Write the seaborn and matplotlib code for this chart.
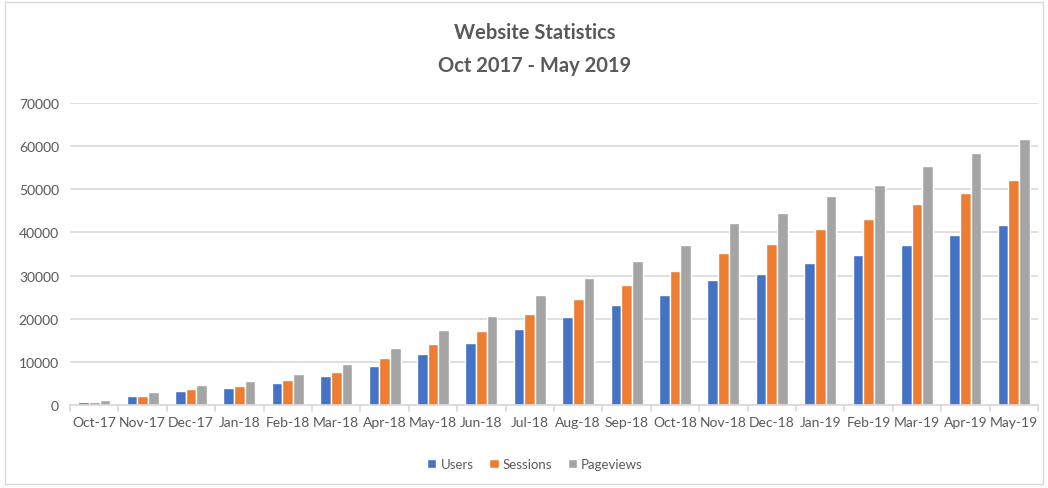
import pandas as pd
import matplotlib.pyplot as plt
import seaborn as sns
from matplotlib.patches import Rectangle

months = ["Oct-17", "Nov-17", "Dec-17", "Jan-18", "Feb-18", "Mar-18", "Apr-18",
          "May-18", "Jun-18", "Jul-18", "Aug-18", "Sep-18", "Oct-18", "Nov-18",
          "Dec-18", "Jan-19", "Feb-19", "Mar-19", "Apr-19", "May-19"]
users = [800, 2000, 3300, 3900, 5000, 6800, 9100, 11900, 14400, 17700,
         20400, 23100, 25600, 28900, 30300, 33000, 34700, 37200, 39300, 41800]
sessions = [800, 2200, 3700, 4300, 5800, 7700, 10800, 14100, 17100, 21000,
            24600, 27900, 31000, 35300, 37400, 40700, 43000, 46500, 49100, 52100]
pageviews = [1200, 2900, 4700, 5600, 7200, 9500, 13100, 17300, 20600, 25400,
             29400, 33300, 37000, 42200, 44500, 48400, 51100, 55300, 58300, 61600]
y_ticks = [0, 10000, 20000, 30000, 40000, 50000, 60000, 70000]

df = pd.DataFrame({"Month": months, "Users": users, "Sessions": sessions, "Pageviews": pageviews})
df_long = df.melt(id_vars="Month", var_name="Metric", value_name="Count")

sns.set_style("white")
plt.rcParams["font.family"] = ["Lato", "DejaVu Sans"]

text_col = "#595959"
grid_col = "#D9D9D9"
palette = {"Users": "#4472C4", "Sessions": "#ED7D31", "Pageviews": "#A5A5A5"}

fig = plt.figure(figsize=(10.48, 4.89), dpi=100)
ax = fig.add_axes([70 / 1048, 1 - 406 / 489, 968 / 1048, 302 / 489])

sns.barplot(data=df_long, x="Month", y="Count", hue="Metric", palette=palette,
            width=0.66, gap=0, saturation=1, ax=ax, legend=True)

ax.set_ylim(0, 70000)
ax.set_xlim(-0.5, len(months) - 0.5)
ax.set_yticks(y_ticks)
ax.set_yticklabels([str(v) for v in y_ticks], color=text_col, fontsize=10)
ax.tick_params(axis="x", colors=text_col, labelsize=10, length=0, pad=8)
ax.tick_params(axis="y", length=0, pad=8)
ax.set_xlabel("")
ax.set_ylabel("")
ax.yaxis.grid(True, color=grid_col, linewidth=1.2)
ax.set_axisbelow(True)
for side in ["top", "right", "left"]:
    ax.spines[side].set_visible(False)
ax.spines["bottom"].set_color(grid_col)
ax.spines["bottom"].set_linewidth(1.2)

# small ticks between categories
for i in range(len(months) + 1):
    ax.plot([i - 0.5, i - 0.5], [0, -1300], color=grid_col, lw=1.2, clip_on=False)

handles, labels = ax.get_legend_handles_labels()
ax.get_legend().remove()
leg = fig.legend(handles, labels, loc="center", bbox_to_anchor=(535 / 1048, 1 - 465 / 489),
                 ncol=3, frameon=False, fontsize=9.5, handlelength=0.7, handleheight=0.7,
                 handletextpad=0.3, columnspacing=1.2)
for t in leg.get_texts():
    t.set_color(text_col)

fig.text(0.51, 1 - 33 / 489, "Website Statistics", ha="center", va="center",
         fontsize=14.5, fontweight="bold", color=text_col)
fig.text(0.51, 1 - 66 / 489, "Oct 2017 - May 2019", ha="center", va="center",
         fontsize=14.5, fontweight="bold", color=text_col)

fig.patches.append(Rectangle((5 / 1048, 4 / 489), 1038 / 1048, 482 / 489,
                             transform=fig.transFigure, fill=False,
                             edgecolor=grid_col, linewidth=1))

fig.savefig("out.png", dpi=100)
